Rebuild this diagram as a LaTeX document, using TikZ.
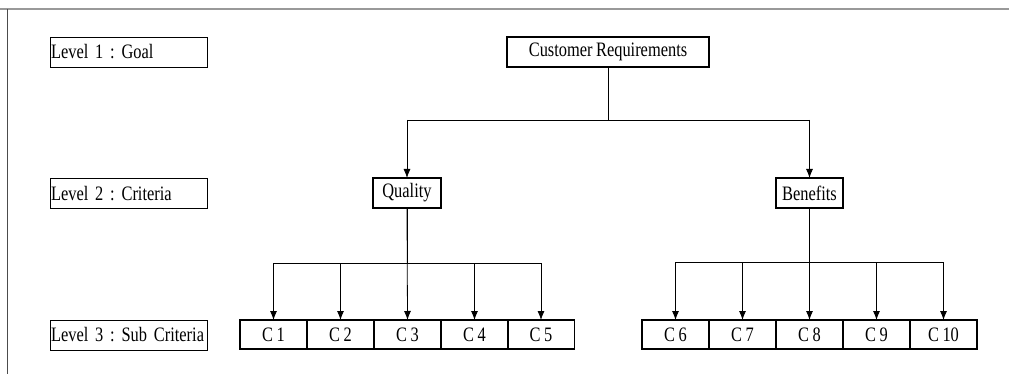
\documentclass[tikz,border=0pt]{standalone}
\usepackage{fontspec}
\setmainfont{Liberation Serif}[FakeStretch=0.8, WordSpace=0.85]
\usetikzlibrary{arrows.meta}
\begin{document}
\frenchspacing
\begin{tikzpicture}[x=1pt,y=-1pt,
  every node/.style={font=\fontsize{20.5}{22}\selectfont, outer sep=0pt},
  levelbox/.style={draw, line width=0.9pt, minimum height=30pt, text width=155pt,
    inner xsep=1pt, inner ysep=0pt, align=left, anchor=west},
  mainbox/.style={draw, line width=1.8pt, minimum height=30pt, inner xsep=4pt, inner ysep=0pt},
  subbox/.style={draw, line width=1.8pt, minimum width=67pt, minimum height=29pt, inner sep=0pt},
  link/.style={line width=0.8pt},
  arr/.style={link, -{Latex[length=9pt,width=7pt]}}]
\useasboundingbox (0,0) rectangle (1009,374);

% frame
\draw[gray!80, line width=1.3pt] (0,9) -- (1009,9);
\draw[black!70, line width=1pt] (7,9) -- (7,374);

% level labels
\node[levelbox] (L1) at (50,52) {Level 1 : Goal};
\node[levelbox] (L2) at (50,193.5) {Level 2 : Criteria};
\node[levelbox] (L3) at (50,335) {Level 3 : Sub Criteria};

% hierarchy
\node[mainbox, minimum width=202pt] (goal) at (608,52) {Customer Requirements};
\node[mainbox, minimum width=68pt] (qual) at (407,193) {Quality};
\node[mainbox, minimum width=67pt] (ben) at (809.5,193) {Benefits};

\foreach \i/\x in {1/273.5,2/340.5,3/407.5,4/474.5,5/541,
                   6/675.5,7/742.5,8/809.5,9/876.5,10/943.5}
  \node[subbox] (C\i) at (\x,334.5) {C \i};

% branch points
\coordinate (gbar) at (608,120);
\coordinate (qbar) at (407,263);
\coordinate (bbar) at (809.5,262);

\draw[link] (goal.south) -- (gbar);
\draw[link] (qual.north |- gbar) -- (ben.north |- gbar);
\draw[arr] (qual.north |- gbar) -- (qual.north);
\draw[arr] (ben.north |- gbar) -- (ben.north);

\draw[link] (qual.south) -- (qbar);
\draw[link] (C1.north |- qbar) -- (C5.north |- qbar);
\draw[arr] (qual.south) -- (C3.north);
\foreach \i in {1,2,4,5}
  \draw[arr] (C\i.north |- qbar) -- (C\i.north);

\draw[link] (ben.south) -- (bbar);
\draw[link] (C6.north |- bbar) -- (C10.north |- bbar);
\foreach \i in {6,...,10}
  \draw[arr] (C\i.north |- bbar) -- (C\i.north);
\end{tikzpicture}
\end{document}
